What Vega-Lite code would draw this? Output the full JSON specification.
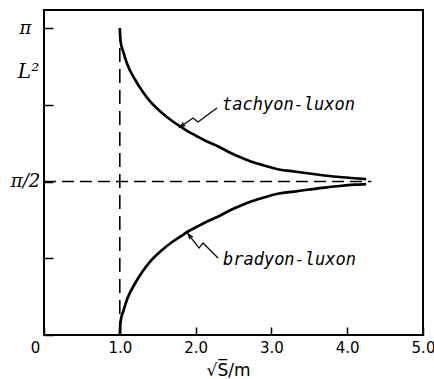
{
  "$schema": "https://vega.github.io/schema/vega-lite/v6.json",
  "width": 379,
  "height": 325,
  "autosize": {"type": "none"},
  "padding": {"left": 44, "top": 10, "right": 11, "bottom": 44},
  "background": "white",
  "config": {
    "view": {"stroke": "black", "strokeWidth": 2},
    "axis": {"grid": false, "domain": false, "tickColor": "black", "labelColor": "black", "titleColor": "black"}
  },
  "datasets": {
    "curves": [
      {"series": "tachyon-luxon", "x": 1.0, "y": 3.1416},
      {"series": "tachyon-luxon", "x": 1.005, "y": 3.055},
      {"series": "tachyon-luxon", "x": 1.015, "y": 2.983},
      {"series": "tachyon-luxon", "x": 1.045, "y": 2.901},
      {"series": "tachyon-luxon", "x": 1.1, "y": 2.768},
      {"series": "tachyon-luxon", "x": 1.2, "y": 2.615},
      {"series": "tachyon-luxon", "x": 1.3, "y": 2.492},
      {"series": "tachyon-luxon", "x": 1.4, "y": 2.390},
      {"series": "tachyon-luxon", "x": 1.55, "y": 2.277},
      {"series": "tachyon-luxon", "x": 1.7, "y": 2.185},
      {"series": "tachyon-luxon", "x": 1.8, "y": 2.134},
      {"series": "tachyon-luxon", "x": 1.9, "y": 2.083},
      {"series": "tachyon-luxon", "x": 2.0, "y": 2.042},
      {"series": "tachyon-luxon", "x": 2.15, "y": 1.980},
      {"series": "tachyon-luxon", "x": 2.3, "y": 1.929},
      {"series": "tachyon-luxon", "x": 2.45, "y": 1.868},
      {"series": "tachyon-luxon", "x": 2.6, "y": 1.816},
      {"series": "tachyon-luxon", "x": 2.75, "y": 1.770},
      {"series": "tachyon-luxon", "x": 2.9, "y": 1.735},
      {"series": "tachyon-luxon", "x": 3.1, "y": 1.694},
      {"series": "tachyon-luxon", "x": 3.3, "y": 1.673},
      {"series": "tachyon-luxon", "x": 3.5, "y": 1.653},
      {"series": "tachyon-luxon", "x": 3.7, "y": 1.632},
      {"series": "tachyon-luxon", "x": 3.9, "y": 1.617},
      {"series": "tachyon-luxon", "x": 4.1, "y": 1.604},
      {"series": "tachyon-luxon", "x": 4.25, "y": 1.596},
      {"series": "bradyon-luxon", "x": 1.0, "y": 0.0},
      {"series": "bradyon-luxon", "x": 1.005, "y": 0.087},
      {"series": "bradyon-luxon", "x": 1.015, "y": 0.158},
      {"series": "bradyon-luxon", "x": 1.045, "y": 0.240},
      {"series": "bradyon-luxon", "x": 1.1, "y": 0.373},
      {"series": "bradyon-luxon", "x": 1.2, "y": 0.527},
      {"series": "bradyon-luxon", "x": 1.3, "y": 0.650},
      {"series": "bradyon-luxon", "x": 1.4, "y": 0.752},
      {"series": "bradyon-luxon", "x": 1.55, "y": 0.865},
      {"series": "bradyon-luxon", "x": 1.7, "y": 0.957},
      {"series": "bradyon-luxon", "x": 1.8, "y": 1.008},
      {"series": "bradyon-luxon", "x": 1.9, "y": 1.059},
      {"series": "bradyon-luxon", "x": 2.0, "y": 1.100},
      {"series": "bradyon-luxon", "x": 2.15, "y": 1.161},
      {"series": "bradyon-luxon", "x": 2.3, "y": 1.213},
      {"series": "bradyon-luxon", "x": 2.45, "y": 1.274},
      {"series": "bradyon-luxon", "x": 2.6, "y": 1.325},
      {"series": "bradyon-luxon", "x": 2.75, "y": 1.371},
      {"series": "bradyon-luxon", "x": 2.9, "y": 1.407},
      {"series": "bradyon-luxon", "x": 3.1, "y": 1.448},
      {"series": "bradyon-luxon", "x": 3.3, "y": 1.468},
      {"series": "bradyon-luxon", "x": 3.5, "y": 1.489},
      {"series": "bradyon-luxon", "x": 3.7, "y": 1.509},
      {"series": "bradyon-luxon", "x": 3.9, "y": 1.525},
      {"series": "bradyon-luxon", "x": 4.1, "y": 1.538},
      {"series": "bradyon-luxon", "x": 4.25, "y": 1.545}
    ],
    "vline": [{"x": 1.0, "y": 0.0, "y2": 3.1416}],
    "hline": [{"x": 0.0, "x2": 4.32, "y": 1.5708}],
    "zigzags": [
      {"series": "tachyon-luxon", "order": 1, "x": 1.794, "y": 2.129},
      {"series": "tachyon-luxon", "order": 2, "x": 1.966, "y": 2.221},
      {"series": "tachyon-luxon", "order": 3, "x": 2.032, "y": 2.180},
      {"series": "tachyon-luxon", "order": 4, "x": 2.282, "y": 2.323},
      {"series": "bradyon-luxon", "order": 1, "x": 1.900, "y": 1.034},
      {"series": "bradyon-luxon", "order": 2, "x": 2.045, "y": 0.890},
      {"series": "bradyon-luxon", "order": 3, "x": 2.098, "y": 0.942},
      {"series": "bradyon-luxon", "order": 4, "x": 2.296, "y": 0.788}
    ],
    "tipT": [{"x": 1.794, "y": 2.129}],
    "tipB": [{"x": 1.900, "y": 1.034}],
    "labels": [
      {"label": "tachyon-luxon", "x": 2.348, "y": 2.303},
      {"label": "bradyon-luxon", "x": 2.361, "y": 0.716}
    ]
  },
  "layer": [
    {
      "data": {"name": "curves"},
      "mark": {"type": "line", "stroke": "black", "strokeWidth": 2.7, "interpolate": "monotone"},
      "encoding": {
        "x": {
          "field": "x", "type": "quantitative",
          "scale": {"domain": [0, 5], "nice": false, "zero": false},
          "axis": {
            "values": [0, 1, 2, 3, 4, 5],
            "labelExpr": "datum.value == 0 ? '0' : format(datum.value, '.1f')",
            "labelFlush": false,
            "labelOverlap": false,
            "tickSize": -8, "tickWidth": 1.5,
            "labelPadding": 13,
            "labelOffset": {"condition": {"test": "datum.value == 0", "value": -9}, "value": 0},
            "labelFont": "DejaVu Sans", "labelFontSize": 15,
            "title": "√S̅/m",
            "titleFont": "DejaVu Sans", "titleFontSize": 17, "titleFontWeight": "normal",
            "titleX": 184, "titleY": 40, "titleBaseline": "alphabetic", "titleAnchor": "middle"
          }
        },
        "y": {
          "field": "y", "type": "quantitative",
          "scale": {"domain": [0, 3.326], "nice": false, "zero": false},
          "axis": {
            "values": [0, 0.7854, 1.5708, 2.3562, 3.1416],
            "labelExpr": "datum.value > 3 ? 'π' : (abs(datum.value - 1.5708) < 0.01 ? 'π/2' : '')",
            "labelFlush": false,
            "labelOverlap": false,
            "tickSize": -9, "tickWidth": 1.5,
            "labelPadding": 28,
            "labelAlign": "center", "labelBaseline": "middle",
            "labelFont": "DejaVu Serif", "labelFontStyle": "italic", "labelFontSize": 18,
            "title": "L²",
            "titleAngle": 0, "titleX": -16, "titleY": 67,
            "titleAlign": "center", "titleBaseline": "alphabetic",
            "titleFont": "DejaVu Serif", "titleFontStyle": "italic", "titleFontSize": 20, "titleFontWeight": "normal"
          }
        },
        "detail": {"field": "series"}
      }
    },
    {
      "data": {"name": "vline"},
      "mark": {"type": "rule", "stroke": "black", "strokeWidth": 1.6, "strokeDash": [14, 7]},
      "encoding": {
        "x": {"field": "x", "type": "quantitative"},
        "y": {"field": "y", "type": "quantitative"},
        "y2": {"field": "y2"}
      }
    },
    {
      "data": {"name": "hline"},
      "mark": {"type": "rule", "stroke": "black", "strokeWidth": 1.6, "strokeDash": [12, 6]},
      "encoding": {
        "x": {"field": "x", "type": "quantitative"},
        "x2": {"field": "x2"},
        "y": {"field": "y", "type": "quantitative"}
      }
    },
    {
      "data": {"name": "zigzags"},
      "mark": {"type": "line", "stroke": "black", "strokeWidth": 1.3},
      "encoding": {
        "x": {"field": "x", "type": "quantitative"},
        "y": {"field": "y", "type": "quantitative"},
        "detail": {"field": "series"},
        "order": {"field": "order"}
      }
    },
    {
      "data": {"name": "tipT"},
      "mark": {"type": "point", "shape": "M-0.6,1.8 L0,0 L0.6,1.8", "filled": false, "stroke": "black", "strokeWidth": 1.3, "size": 36, "angle": 235, "opacity": 1},
      "encoding": {
        "x": {"field": "x", "type": "quantitative"},
        "y": {"field": "y", "type": "quantitative"}
      }
    },
    {
      "data": {"name": "tipB"},
      "mark": {"type": "point", "shape": "M-0.6,1.8 L0,0 L0.6,1.8", "filled": false, "stroke": "black", "strokeWidth": 1.3, "size": 36, "angle": 322, "opacity": 1},
      "encoding": {
        "x": {"field": "x", "type": "quantitative"},
        "y": {"field": "y", "type": "quantitative"}
      }
    },
    {
      "data": {"name": "labels"},
      "mark": {"type": "text", "align": "left", "baseline": "alphabetic", "font": "DejaVu Sans Mono", "fontStyle": "italic", "fontSize": 17, "color": "black"},
      "encoding": {
        "x": {"field": "x", "type": "quantitative"},
        "y": {"field": "y", "type": "quantitative"},
        "text": {"field": "label"}
      }
    }
  ]
}
